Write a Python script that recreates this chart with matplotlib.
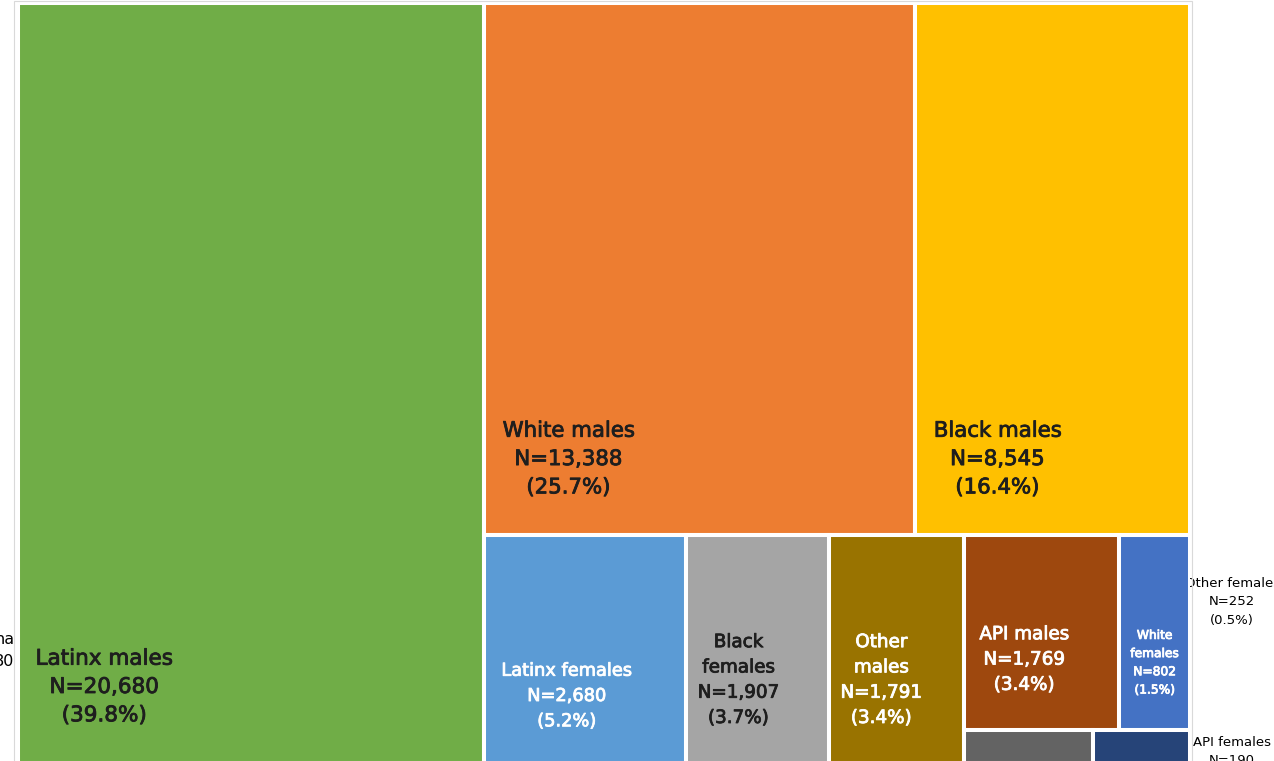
import matplotlib
matplotlib.use("Agg")
import matplotlib.pyplot as plt
import matplotlib.patheffects as pe
from matplotlib.patches import Rectangle
from matplotlib.transforms import Bbox, TransformedBbox

# Group sizes (people) and their treemap colours
groups = ["Latinx males", "White males", "Black males", "Latinx females",
          "Black females", "Other males", "API males", "White females",
          "Other females", "API females"]
counts = [20680, 13388, 8545, 2680, 1907, 1791, 1769, 802, 252, 190]
shares = [39.8, 25.7, 16.4, 5.2, 3.7, 3.4, 3.4, 1.5, 0.5, 0.4]
colors = ["#70AD47", "#ED7D31", "#FFC000", "#5B9BD5", "#A5A5A5",
          "#997300", "#9E480E", "#4472C4", "#636363", "#264478"]

# label text per group (line breaks as they appear in each tile)
label_names = ["Latinx males", "White males", "Black males", "Latinx females",
               "Black\nfemales", "Other\nmales", "API males", "White\nfemales",
               "Other females", "API females"]
label_colors = ["#1e1e1e", "#1e1e1e", "#1e1e1e", "white", "#1e1e1e",
                "white", "white", "white", "black", "black"]
label_sizes = [15.5, 15.3, 15.3, 12.8, 13.2, 13.2, 13.2, 8.8, 9.5, 9.5]
# anchor of each label as a fraction of its tile (x from left, y from top)
label_anchor = [(0.185, 0.90), (0.196, 0.857), (0.30, 0.857), (0.41, 0.706),
                (0.37, 0.636), (0.39, 0.636), (0.39, 0.64), (0.50, 0.656),
                None, None]

W, H = 1.0, 1.0
FIG_W, FIG_H = 1274, 761


def layout(vals):
    """Fixed slice-and-dice arrangement: tall first column, two tiles on top,
    a bottom row with a split last column. Returns (x, y, w, h), y from top."""
    total = sum(vals)
    rects = [None] * len(vals)
    wg = vals[0] / total * W
    rects[0] = (0, 0, wg, H)
    rest = total - vals[0]
    rw = W - wg
    top = vals[1] + vals[2]
    ht = top / rest * H
    w1 = vals[1] / top * rw
    rects[1] = (wg, 0, w1, ht)
    rects[2] = (wg + w1, 0, rw - w1, ht)
    bottom = rest - top
    hb = H - ht
    x = wg
    for i in (3, 4, 5):
        w = vals[i] / bottom * rw
        rects[i] = (x, ht, w, hb)
        x += w
    lastw = W - x
    last = vals[6] + vals[7] + vals[8] + vals[9]
    hu = (vals[6] + vals[7]) / last * hb
    wa = vals[6] / (vals[6] + vals[7]) * lastw
    rects[6] = (x, ht, wa, hu)
    rects[7] = (x + wa, ht, lastw - wa, hu)
    wo = vals[8] / (vals[8] + vals[9]) * lastw
    rects[8] = (x, ht + hu, wo, hb - hu)
    rects[9] = (x + wo, ht + hu, lastw - wo, hb - hu)
    return rects


fig = plt.figure(figsize=(FIG_W / 100, FIG_H / 100), dpi=100)
fig.patch.set_facecolor("white")

# plot area in pixels: x 18..1190, y 3..763 (bottom runs just past the edge)
left, right, top_px, bottom_px = 18, 1190, 3, 763
ax = fig.add_axes([left / FIG_W, 1 - bottom_px / FIG_H,
                   (right - left) / FIG_W, (bottom_px - top_px) / FIG_H])
ax.set_xlim(0, W)
ax.set_ylim(H, 0)
ax.axis("off")

# thin chart-area frame
fig.add_artist(Rectangle((14 / FIG_W, -0.05), (1192 - 14) / FIG_W,
                         1 - 1 / FIG_H + 0.05, transform=fig.transFigure,
                         fill=False, edgecolor="#D9D9D9", linewidth=0.8))

rects = layout(counts)
for (x, y, w, h), c in zip(rects, colors):
    ax.add_patch(Rectangle((x, y), w, h, facecolor=c, edgecolor="white",
                           linewidth=2.9, clip_on=False))

for i, (x, y, w, h) in enumerate(rects):
    txt = f"{label_names[i]}\nN={counts[i]:,}\n({shares[i]}%)"
    if label_anchor[i] is not None:
        fx, fy = label_anchor[i]
        ax.text(x + fx * w, y + fy * h, txt, ha="center", va="center",
                multialignment="center", color=label_colors[i],
                fontsize=label_sizes[i], linespacing=1.52,
                path_effects=[pe.withStroke(linewidth=0.6,
                                            foreground=label_colors[i])])

# small groups are labelled beside the plot area
clip = TransformedBbox(Bbox([[1190 / FIG_W, 0], [1, 1]]), fig.transFigure)
ext_pos = {8: 0.788, 9: 0.997}
for i, fy in ext_pos.items():
    t = ax.text(1.036, fy, f"{label_names[i]}\nN={counts[i]}\n({shares[i]}%)",
                ha="center", va="center", multialignment="center",
                color="black", fontsize=label_sizes[i], linespacing=1.55)
    t.set_clip_box(clip)
    t.set_clip_on(True)

# label of a further group cut off at the left edge
ax.text(-0.003, 0.852, "na\n80", ha="right", va="center",
        fontsize=11.5, color="black", linespacing=1.65)

fig.savefig("out.png", dpi=100, facecolor="white")
